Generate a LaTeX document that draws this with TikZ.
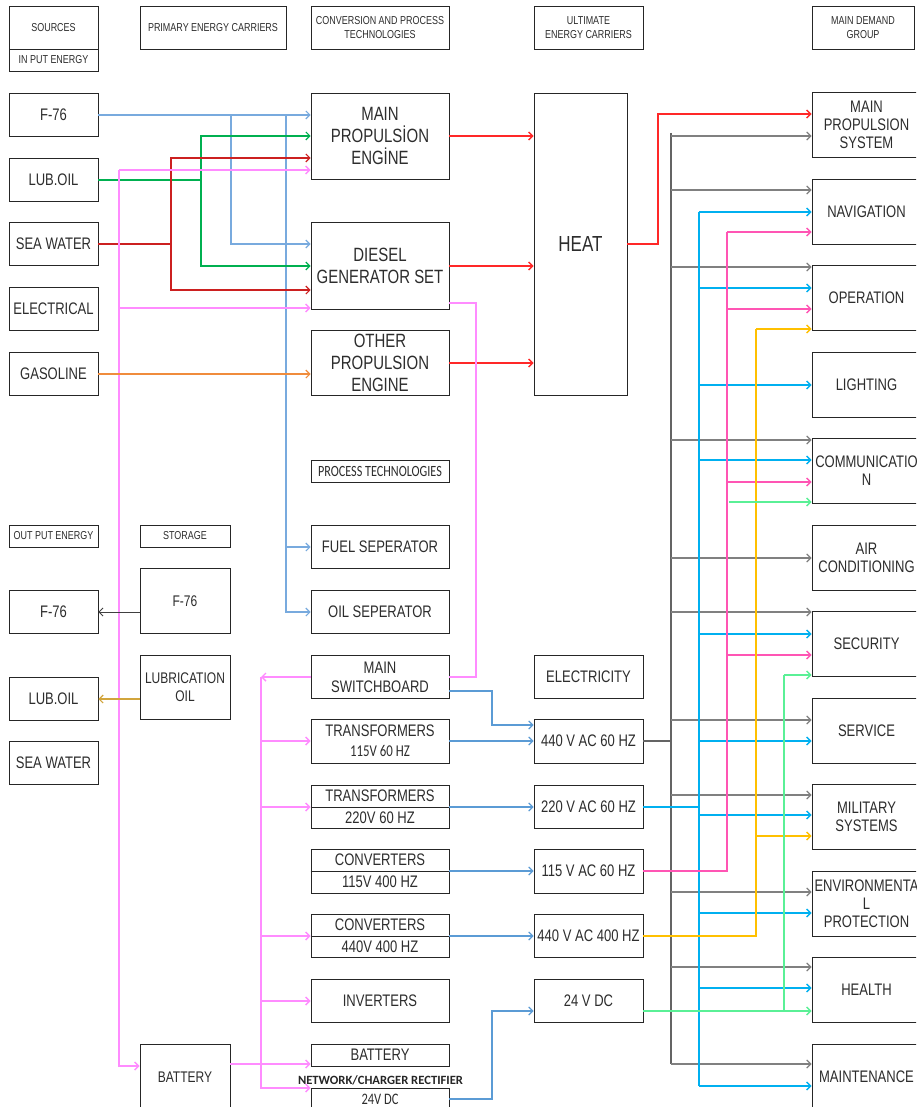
\documentclass[tikz,border=0pt]{standalone}
\usepackage{fontspec}
\setmainfont{Liberation Sans}[FakeStretch=0.78]
\newfontfamily\calfont{Carlito}[FakeStretch=0.78]
\newfontfamily\calplain{Carlito}
\usepackage{xcolor}
\usetikzlibrary{arrows.meta,calc}

\definecolor{fuelblue}{RGB}{120,170,222}
\definecolor{voltblue}{RGB}{91,155,213}
\definecolor{lubegreen}{RGB}{0,176,80}
\definecolor{seared}{RGB}{204,32,32}
\definecolor{elecpink}{RGB}{255,140,255}
\definecolor{gasorange}{RGB}{240,140,60}
\definecolor{heatred}{RGB}{255,40,40}
\definecolor{busgray}{RGB}{100,100,100}
\definecolor{arrgray}{RGB}{128,128,128}
\definecolor{linecyan}{RGB}{0,176,240}
\definecolor{linepink}{RGB}{255,85,180}
\definecolor{linegold}{RGB}{255,192,0}
\definecolor{linegreen}{RGB}{90,240,150}
\definecolor{linetan}{RGB}{210,165,60}
\definecolor{boxline}{RGB}{38,38,38}
\definecolor{boxtext}{RGB}{45,45,45}

\newcommand{\szHead}{\fontsize{11.5}{14}\selectfont}
\newcommand{\szBox}{\fontsize{16.7}{18}\selectfont}
\newcommand{\szSplit}{\fontsize{16.7}{22}\selectfont}
\newcommand{\szBig}{\fontsize{19.2}{21.7}\selectfont}
\newcommand{\szHeat}{\fontsize{21.8}{24}\selectfont}
\newcommand{\szStore}{\fontsize{15.4}{17.7}\selectfont}

\begin{document}
\begin{tikzpicture}[x=1pt,y=-1pt,
    >={Straight Barb[length=4pt,width=8pt]},
    box/.style={draw=boxline,line width=0.9pt,inner sep=0pt,align=center,text=boxtext,font=\szBox},
    hbox/.style={box,font=\szHead},
    src/.style={box,minimum width=89pt,minimum height=43pt},
    store/.style={box,minimum width=90pt,font=\szStore},
    conv/.style={box,minimum width=138pt,minimum height=43pt},
    ult/.style={box,minimum width=109pt,minimum height=43pt},
    dem/.style={box,minimum width=109pt,minimum height=65pt},
    fuel/.style={fuelblue,line width=1.1pt},
    lube/.style={lubegreen,line width=1.1pt},
    sea/.style={seared,line width=1.1pt},
    elec/.style={elecpink,line width=1.4pt},
    gas/.style={gasorange,line width=1.1pt},
    hot/.style={heatred,line width=1.4pt},
    volt/.style={voltblue,line width=1.2pt},
    bus/.style={busgray,line width=2pt},
    grayl/.style={arrgray,line width=1.2pt},
    cyanl/.style={linecyan,line width=1.3pt},
    pinkl/.style={linepink,line width=1.3pt},
    goldl/.style={linegold,line width=1.3pt},
    greenl/.style={linegreen,line width=1.3pt},
    tanl/.style={linetan,line width=1.1pt},
    darkl/.style={black!75,line width=0.8pt}]

    \clip (0,0) rectangle (916,1107);
    \fill[white] (0,0) rectangle (916,1107);

    % Headers
    \node[hbox,minimum width=89pt,minimum height=43pt] (hsrc) at (53.5,27.5) {SOURCES};
    \node[hbox,minimum width=89pt,minimum height=22pt] (hin) at (53.5,60) {IN PUT ENERGY};
    \node[hbox,minimum width=146pt,minimum height=43pt] (hprim) at (213,27.5) {PRIMARY ENERGY CARRIERS};
    \node[hbox,minimum width=138pt,minimum height=43pt] (hconv) at (380,27.5) {CONVERSION AND PROCESS\\TECHNOLOGIES};
    \node[hbox,minimum width=109pt,minimum height=43pt] (hult) at (588.5,27.5) {ULTIMATE\\ENERGY CARRIERS};
    \node[hbox,minimum width=102pt,minimum height=43pt] (hdem) at (863,27.5) {MAIN DEMAND\\GROUP};
    \node[hbox,minimum width=89pt,minimum height=22pt] (hout) at (53.5,536) {OUT PUT ENERGY};
    \node[hbox,minimum width=90pt,minimum height=22pt] (hstore) at (185,536) {STORAGE};
    \node[box,minimum width=138pt,minimum height=22pt,font=\calfont\fontsize{15.6}{18}\selectfont] (hproc) at (380,471) {PROCESS TECHNOLOGIES};
    \node[ult] (elec) at (588.5,677) {ELECTRICITY};

    % Sources and output energy
    \node[src] (sf76) at (53.5,115) {F-76};
    \node[src] (slub) at (53.5,180) {LUB.OIL};
    \node[src] (ssea) at (53.5,244) {SEA WATER};
    \node[src] (selec) at (53.5,309) {ELECTRICAL};
    \node[src] (sgas) at (53.5,374) {GASOLINE};
    \node[src] (of76) at (53.5,612) {F-76};
    \node[src] (olub) at (53.5,699) {LUB.OIL};
    \node[src] (osea) at (53.5,763) {SEA WATER};

    % Storage
    \node[store,minimum height=65pt] (tf76) at (185,601) {F-76};
    \node[store,minimum height=64pt] (tlub) at (185,687) {LUBRICATION\\OIL};
    \node[store,minimum height=65pt] (tbat) at (185,1077) {BATTERY};

    % Conversion and process technologies
    \node[conv,minimum height=86pt,font=\szBig] (mpe) at (380,136) {MAIN\\PROPULSİON\\ENGİNE};
    \node[conv,minimum height=87pt,font=\szBig] (dgs) at (380,266) {DIESEL\\GENERATOR SET};
    \node[conv,minimum height=65pt,font=\szBig] (ope) at (380,363) {OTHER\\PROPULSION\\ENGINE};
    \node[conv] (fsep) at (380,547) {FUEL SEPERATOR};
    \node[conv] (osep) at (380,612) {OIL SEPERATOR};
    \node[conv,font=\fontsize{16.7}{19}\selectfont] (msb) at (380,677) {MAIN\\SWITCHBOARD};
    \node[conv,minimum height=44pt,font=\fontsize{16.7}{20}\selectfont] (tr115) at (380,741) {TRANSFORMERS\\{\calfont\fontsize{16.5}{20}\selectfont 115V 60 HZ}};
    \node[conv,font=\szSplit] (tr220) at (380,807) {TRANSFORMERS\\220V 60 HZ};
    \node[conv,minimum height=44pt,font=\szSplit] (cv115) at (380,871) {CONVERTERS\\115V 400 HZ};
    \node[conv,font=\szSplit] (cv440) at (380,936) {CONVERTERS\\440V 400 HZ};
    \node[conv] (inv) at (380,1001) {INVERTERS};
    \node[conv,minimum height=22pt] (bat) at (380,1055) {BATTERY};
    \node[font=\calplain\bfseries\fontsize{12.6}{14}\selectfont,text=black!85,inner sep=0pt] (netlbl) at (380.5,1080) {NETWORK/CHARGER RECTIFIER};
    \node[conv,minimum height=22pt,font=\calfont\fontsize{16}{18}\selectfont] (chg) at (380,1099) {24V DC};
    \foreach \n in {tr220,cv115,cv440}
        \draw[boxline,line width=0.9pt] (\n.west) -- (\n.east);

    % Ultimate energy carriers
    \node[box,minimum width=93pt,minimum height=302pt,font=\szHeat] (heat) at (580.5,244) {HEAT};
    \node[ult,minimum height=44pt] (v440) at (588.5,741) {440 V AC 60 HZ};
    \node[ult] (v220) at (588.5,807) {220 V AC 60 HZ};
    \node[ult,minimum height=44pt] (v115) at (588.5,871) {115 V AC 60 HZ};
    \node[ult] (v440k) at (588.5,936) {440 V AC 400 HZ};
    \node[ult] (v24) at (588.5,1001) {24 V DC};

    % Main demand group
    \node[dem] (dmps) at (866.5,125) {MAIN\\PROPULSION\\SYSTEM};
    \node[dem] (dnav) at (866.5,212) {NAVIGATION};
    \node[dem] (dop) at (866.5,298) {OPERATION};
    \node[dem] (dlight) at (866.5,385) {LIGHTING};
    \node[dem] (dcom) at (866.5,471) {COMMUNICATIO\\N};
    \node[dem] (dair) at (866.5,558) {AIR\\CONDITIONING};
    \node[dem] (dsec) at (866.5,644) {SECURITY};
    \node[dem] (dserv) at (866.5,731) {SERVICE};
    \node[dem] (dmil) at (866.5,817) {MILITARY\\SYSTEMS};
    \node[dem] (denv) at (866.5,904) {ENVIRONMENTA\\L\\PROTECTION};
    \node[dem] (dhealth) at (866.5,990) {HEALTH};
    \node[dem] (dmaint) at (866.5,1077) {MAINTENANCE};

    % Fuel
    \coordinate (fja) at (231,115);
    \coordinate (fjb) at (286,115);
    \draw[fuel,->] (sf76.east) -- (sf76.east -| mpe.west);
    \draw[fuel,->] (fja) |- ([yshift=22pt]dgs.west);
    \draw[fuel,->] (fjb) |- (osep.west);
    \draw[fuel,->] (fjb |- fsep.west) -- (fsep.west);

    % Lubrication oil
    \coordinate (lj) at (201,180);
    \draw[lube] (slub.east) -- (lj);
    \draw[lube,->] (lj) |- (mpe.west);
    \draw[lube,->] (lj) |- (dgs.west);

    % Sea water
    \coordinate (wj) at (171,244);
    \draw[sea] (ssea.east) -- (wj);
    \draw[sea,->] (wj) |- ([yshift=-22pt]mpe.west);
    \draw[sea,->] (wj) |- ([yshift=-24pt]dgs.west);

    % Electrical
    \coordinate (ej) at (119,170);
    \draw[elec,->] (ej) -- ([yshift=-34pt]mpe.west);
    \draw[elec,->] (ej) |- ([yshift=11pt]tbat.west);
    \draw[elec,->] ([yshift=-42pt]dgs.west -| ej) -- ([yshift=-42pt]dgs.west);

    % Gasoline
    \draw[gas,->] (sgas.east) -- (sgas.east -| ope.west);

    % Heat
    \draw[hot,->] (mpe.east) -- (mpe.east -| heat.west);
    \draw[hot,->] (dgs.east) -- (dgs.east -| heat.west);
    \draw[hot,->] (ope.east) -- (ope.east -| heat.west);
    \coordinate (hj) at (658,244);
    \draw[hot,->] (heat.east) -- (hj) |- ([yshift=11pt]dmps.west);

    % Switchboard and distribution
    \coordinate (dj) at (476,303);
    \draw[elec] ([yshift=-37pt]dgs.east) -- (dj) |- (msb.east);
    \coordinate (sj) at (261,677);
    \draw[elec,->] (msb.west) -- (sj);
    \draw[elec,->] (sj) |- ([yshift=11pt]chg.west);
    \foreach \n in {tr115,tr220,cv440,inv}
        \draw[elec,->] (sj |- \n.west) -- (\n.west);
    \draw[elec,->] ([yshift=13pt]tbat.east) -- ([yshift=13pt]tbat.east -| bat.west);

    % Storage to output energy
    \draw[darkl,->] ([yshift=-11pt]tf76.west) -- (of76.east);
    \draw[tanl,->] ([yshift=-12pt]tlub.west) -- (olub.east);

    % Electricity
    \coordinate (vj) at (492,691);
    \draw[volt,->] ([yshift=-14pt]msb.east) -- (vj) |- ([yshift=16pt]v440.west);
    \draw[volt,->] (tr115.east) -- (v440.west);
    \draw[volt,->] (tr220.east) -- (v220.west);
    \draw[volt,->] (cv115.east) -- (v115.west);
    \draw[volt,->] (cv440.east) -- (v440k.west);
    \coordinate (cj) at (492,1099);
    \draw[volt,->] (chg.east) -- (cj) |- ([yshift=-10pt]v24.west);

    % 440 V bus
    \coordinate (bustop) at (671,133);
    \coordinate (busbot) at (671,1064);
    \draw[bus] (v440.east) -- (v440.east -| bustop);
    \draw[bus] (bustop) -- (busbot);
    \foreach \n/\d in {dmps/-11,dnav/22,dop/31,dcom/31,dair/0,dsec/32,dserv/11,dmil/22,denv/12,dhealth/23,dmaint/13}
        \draw[grayl,->] ([yshift=\d pt]\n.west -| bustop) -- ([yshift=\d pt]\n.west);

    % 220 V
    \coordinate (cytop) at (699,212);
    \coordinate (cybot) at (699,1086);
    \draw[cyanl] (v220.east) -- (v220.east -| cytop);
    \draw[cyanl] (cytop) -- (cybot);
    \foreach \n/\d in {dnav/0,dop/10,dlight/0,dcom/11,dsec/10,dserv/-10,dmil/2,denv/-9,dhealth/2,dmaint/-9}
        \draw[cyanl,->] ([yshift=\d pt]\n.west -| cytop) -- ([yshift=\d pt]\n.west);

    % 115 V
    \coordinate (pktop) at (727,232);
    \draw[pinkl] (v115.east) -| (pktop);
    \foreach \n/\d in {dnav/-20,dop/-11,dcom/-11,dsec/-11}
        \draw[pinkl,->] ([yshift=\d pt]\n.west -| pktop) -- ([yshift=\d pt]\n.west);

    % 440 V 400 Hz
    \coordinate (gdtop) at (756,329);
    \draw[goldl] (v440k.east) -| (gdtop);
    \foreach \n/\d in {dop/-31,dmil/-19}
        \draw[goldl,->] ([yshift=\d pt]\n.west -| gdtop) -- ([yshift=\d pt]\n.west);

    % 24 V DC
    \coordinate (gntop) at (784,675);
    \coordinate (gncom) at (729,502);
    \draw[greenl,->] ([yshift=-10pt]v24.east) -- ([yshift=-21pt]dhealth.west);
    \draw[greenl] ([yshift=-21pt]dhealth.west -| gntop) -- (gntop);
    \draw[greenl,->] (gntop) -- ([yshift=-31pt]dsec.west);
    \draw[greenl,->] (gncom) -- ([yshift=-31pt]dcom.west);
\end{tikzpicture}
\end{document}
